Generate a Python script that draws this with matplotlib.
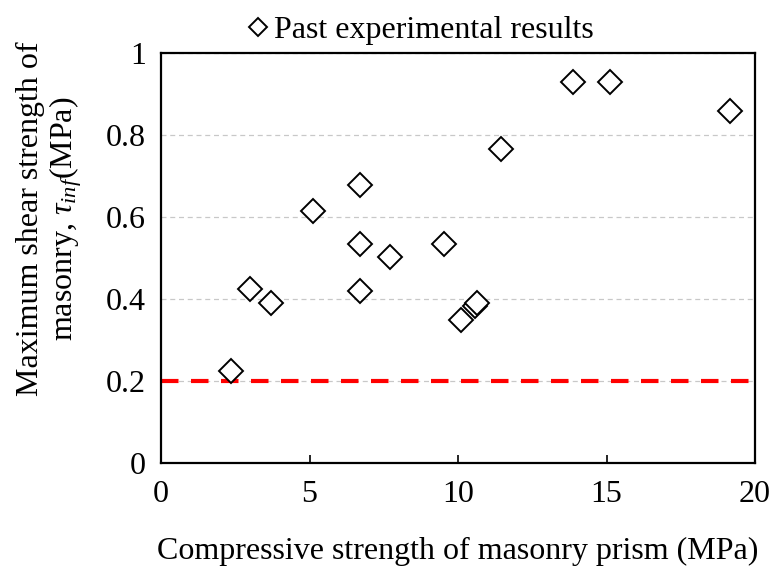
import matplotlib
matplotlib.use("Agg")
import matplotlib.pyplot as plt

# compressive strength of prism (MPa) vs. max shear strength (MPa)
fm = [2.36, 3.0, 3.7, 5.12, 6.7, 6.7, 6.7, 7.7, 9.53, 10.1, 10.57, 10.65, 11.45, 13.87, 15.12, 19.16]
tau = [0.224, 0.424, 0.39, 0.615, 0.678, 0.534, 0.42, 0.503, 0.534, 0.349, 0.384, 0.39, 0.766, 0.928, 0.929, 0.858]
tau_limit = 0.2

plt.rcParams["font.family"] = ["Liberation Serif", "DejaVu Serif"]
plt.rcParams["mathtext.fontset"] = "custom"
plt.rcParams["mathtext.rm"] = "Liberation Serif"
plt.rcParams["mathtext.it"] = "Liberation Serif:italic"

FS = 23

fig = plt.figure(figsize=(7.74, 5.82), dpi=100)
ax = fig.add_axes([0.208, 0.2045, 0.7675, 0.7045])

ax.plot(fm, tau, linestyle="none", marker="D", markersize=12.2,
        markerfacecolor="white", markeredgecolor="black", markeredgewidth=1.4,
        label="Past experimental results", zorder=3)
ax.axhline(tau_limit, color="#ff0000", lw=3, dashes=(4.2, 3), zorder=2)

ax.set_xlim(0, 20)
ax.set_ylim(0, 1)
ax.set_xticks([0, 5, 10, 15, 20])
ax.set_yticks([0, 0.2, 0.4, 0.6, 0.8, 1])
ax.set_yticklabels(["0", "0.2", "0.4", "0.6", "0.8", "1"])
ax.yaxis.grid(True, color="#c8c8c8", linestyle=(0, (4, 3)), lw=0.9)
ax.set_axisbelow(True)
ax.tick_params(axis="x", direction="in", length=6, width=1.2, labelsize=FS, pad=12)
ax.tick_params(axis="y", length=0, labelsize=FS, pad=11)
for s in ax.spines.values():
    s.set_linewidth(1.6)

ax.set_xlabel("Compressive strength of masonry prism (MPa)", fontsize=FS, labelpad=20)
ax.set_ylabel("Maximum shear strength of\nmasonry, $\\tau_{inf}$(MPa)", fontsize=FS,
              linespacing=1.1)
ax.yaxis.set_label_coords(-0.13, 0.595)

ax.legend(loc="lower center", bbox_to_anchor=(0.43, 0.98), frameon=False,
          fontsize=FS, handletextpad=-0.08, markerscale=0.75, borderaxespad=0.1,
          handlelength=1.2)

fig.savefig("out.png", dpi=100)
